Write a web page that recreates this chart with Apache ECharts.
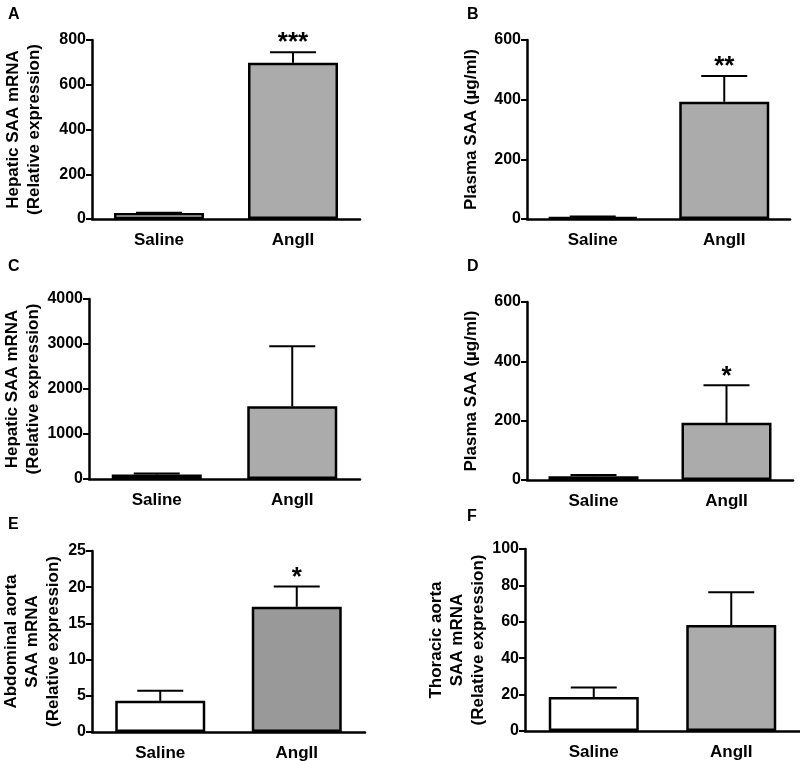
<!DOCTYPE html>
<html>
<head>
<meta charset="utf-8">
<script src="https://cdn.jsdelivr.net/npm/echarts@6/dist/echarts.min.js"></script>
<style>
  html, body { margin: 0; padding: 0; background: #fff; }
  #chart { width: 800px; height: 761px; }
</style>
</head>
<body>
<div id="chart"></div>
<script>
const categories = ['Saline', 'AngII']

// mean and top of error bar (mean + SEM) for each panel
const meanA = [27, 698]
const upperA = [28, 745]
const meanB = [6, 393]
const upperB = [8, 479]
const meanC = [100, 1615]
const upperC = [125, 2950]
const meanD = [13, 193]
const upperD = [17, 319]
const meanE = [4.3, 17.3]
const upperE = [5.7, 20.1]
const meanF = [18.7, 58.2]
const upperF = [23.9, 76.3]

const starsA = ['', '***']
const starsB = ['', '**']
const starsC = ['', '']
const starsD = ['', '*']
const starsE = ['', '*']
const starsF = ['', '']

const yMax = [800, 600, 4000, 600, 25, 100]
const yStep = [200, 200, 1000, 200, 5, 20]

const panelLetters = ['A', 'B', 'C', 'D', 'E', 'F']
const yTitles = [
  'Hepatic SAA mRNA\n(Relative expression)',
  'Plasma SAA (µg/ml)',
  'Hepatic SAA mRNA\n(Relative expression)',
  'Plasma SAA (µg/ml)',
  'Abdominal aorta\nSAA mRNA\n(Relative expression)',
  'Thoracic aorta\nSAA mRNA\n(Relative expression)',
]

const panels = [
  { mean: meanA, upper: upperA, stars: starsA, fill: '#ababab' },
  { mean: meanB, upper: upperB, stars: starsB, fill: '#ababab' },
  { mean: meanC, upper: upperC, stars: starsC, fill: '#ababab' },
  { mean: meanD, upper: upperD, stars: starsD, fill: '#ababab' },
  { mean: meanE, upper: upperE, stars: starsE, fill: '#999999' },
  { mean: meanF, upper: upperF, stars: starsF, fill: '#ababab' },
]

// layout of each plot area
const grids = [
  { left: 92, top: 40, width: 268, height: 179 },
  { left: 527, top: 40, width: 263, height: 179 },
  { left: 89, top: 299, width: 271, height: 180 },
  { left: 527, top: 302, width: 266, height: 178 },
  { left: 92, top: 551, width: 273, height: 181 },
  { left: 525, top: 549, width: 275, height: 182 },
]
const nameGaps = [47, 45, 44, 45, 27, 29]
const letterPos = [[3, 2], [462, 2], [3, 254], [462, 254], [3, 512], [462, 504]]

const font = '"Liberation Sans", Arial, Helvetica, sans-serif'

const chart = echarts.init(document.getElementById('chart'))

const xAxis = []
const yAxis = []
const series = []
const title = []

panels.forEach((p, i) => {
  title.push({
    text: panelLetters[i],
    left: letterPos[i][0],
    top: letterPos[i][1],
    textStyle: { fontFamily: font, fontWeight: 'bold', fontSize: 16, color: '#000' },
  })
  xAxis.push({
    type: 'category',
    gridIndex: i,
    data: categories,
    axisLine: { lineStyle: { color: '#000', width: 2.5 } },
    axisTick: { show: false },
    axisLabel: { color: '#000', fontFamily: font, fontWeight: 'bold', fontSize: 17, margin: 13 },
  })
  yAxis.push({
    type: 'value',
    gridIndex: i,
    min: 0,
    max: yMax[i],
    interval: yStep[i],
    name: yTitles[i],
    nameLocation: 'middle',
    nameRotate: 90,
    nameGap: nameGaps[i],
    nameTextStyle: { color: '#000', fontFamily: font, fontWeight: 'bold', fontSize: 17, lineHeight: 21 },
    splitLine: { show: false },
    axisLine: { show: true, lineStyle: { color: '#000', width: 2.5 } },
    axisTick: { show: true, length: 6, lineStyle: { color: '#000', width: 2 } },
    axisLabel: {
      color: '#000', fontFamily: font, fontWeight: 'bold', fontSize: 16, margin: 6,
      formatter: v => String(v),
    },
  })
  series.push({
    type: 'bar',
    xAxisIndex: i,
    yAxisIndex: i,
    barWidth: 90,
    data: p.mean.map((v, k) => ({
      value: v,
      itemStyle: { color: k === 0 ? '#ffffff' : p.fill },
    })),
    itemStyle: { borderColor: '#000', borderWidth: 2.5 },
    silent: true,
  })
  // error bars (upper only) with significance stars
  series.push({
    type: 'custom',
    xAxisIndex: i,
    yAxisIndex: i,
    z: 3,
    silent: true,
    data: p.mean.map((v, k) => [k, v, p.upper[k]]),
    renderItem: (params, api) => {
      const bottom = api.coord([api.value(0), api.value(1)])
      const top = api.coord([api.value(0), api.value(2)])
      const half = 23
      const children = [
        {
          type: 'line',
          shape: { x1: top[0], y1: bottom[1], x2: top[0], y2: top[1] },
          style: { stroke: '#000', lineWidth: 2 },
        },
        {
          type: 'line',
          shape: { x1: top[0] - half, y1: top[1], x2: top[0] + half, y2: top[1] },
          style: { stroke: '#000', lineWidth: 2 },
        },
      ]
      const star = p.stars[params.dataIndex]
      if (star) {
        children.push({
          type: 'text',
          style: {
            text: star,
            x: top[0],
            y: top[1] + 4,
            align: 'center',
            verticalAlign: 'bottom',
            fontFamily: font,
            fontWeight: 'bold',
            fontSize: 26,
            fill: '#000',
          },
        })
      }
      return { type: 'group', children }
    },
  })
})

chart.setOption({
  animation: false,
  backgroundColor: '#fff',
  title,
  grid: grids.map(g => Object.assign({ outerBoundsMode: 'none' }, g)),
  xAxis,
  yAxis,
  series,
})
</script>
</body>
</html>
